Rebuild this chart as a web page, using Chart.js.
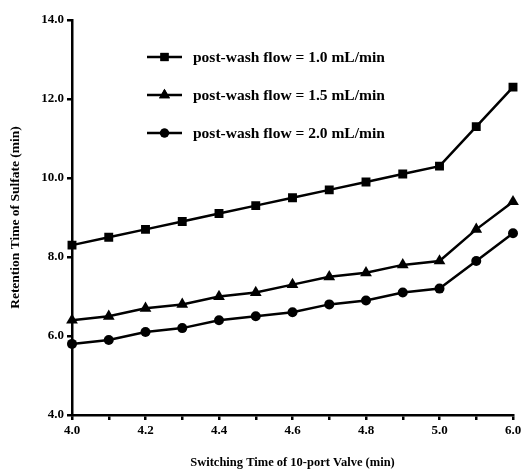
<!DOCTYPE html>
<html><head><meta charset="utf-8">
<script src="https://cdn.jsdelivr.net/npm/chart.js@4/dist/chart.umd.min.js"></script>
<style>html,body{margin:0;padding:0;background:#fff}#wrap{width:531px;height:470px;position:relative}</style>
</head><body><div id="wrap"><canvas id="c"></canvas></div>
<script>
const categories = ['4.0','4.1','4.2','4.3','4.4','4.5','4.6','4.7','4.8','4.9','5.0','5.5','6.0'];
const flow10 = [8.3,8.5,8.7,8.9,9.1,9.3,9.5,9.7,9.9,10.1,10.3,11.3,12.3];
const flow15 = [6.4,6.5,6.7,6.8,7.0,7.1,7.3,7.5,7.6,7.8,7.9,8.7,9.4];
const flow20 = [5.8,5.9,6.1,6.2,6.4,6.5,6.6,6.8,6.9,7.1,7.2,7.9,8.6];
const seriesNames = ['post-wash flow = 1.0 mL/min','post-wash flow = 1.5 mL/min','post-wash flow = 2.0 mL/min'];
const yTicks = [4,6,8,10,12,14];

const FONT = '"Liberation Serif","Times New Roman",serif';
function ds(label, data, style, r){
  return {label, data, borderColor:'#000', backgroundColor:'#000', borderWidth:2.5,
    pointStyle:style, pointRadius:r, pointHoverRadius:r, pointBorderWidth:0, tension:0};
}

const legendPlugin = {
  id:'insideLegend',
  afterDraw(chart){
    const ctx = chart.ctx;
    const x0 = 147, x1 = 182, tx = 193, y0 = 57, dy = 38;
    chart.data.datasets.forEach((d,i)=>{
      const y = y0 + i*dy;
      ctx.save();
      ctx.strokeStyle='#000'; ctx.lineWidth=2.5;
      ctx.beginPath(); ctx.moveTo(x0,y); ctx.lineTo(x1,y); ctx.stroke();
      ctx.fillStyle='#000';
      Chart.helpers.drawPoint(ctx,{pointStyle:d.pointStyle,radius:d.pointRadius-0.5,borderWidth:0,rotation:0},(x0+x1)/2,y);
      ctx.fill();
      ctx.font='bold 15.5px '+FONT; ctx.textBaseline='middle'; ctx.textAlign='left';
      ctx.fillText(d.label, tx, y+1);
      ctx.restore();
    });
  }
};

new Chart(document.getElementById('c'), {
  type:'line',
  data:{labels:categories, datasets:[
    ds(seriesNames[0], flow10, 'rect', 6.3),
    ds(seriesNames[1], flow15, 'triangle', 6.8),
    ds(seriesNames[2], flow20, 'circle', 5)
  ]},
  options:{
    responsive:true, maintainAspectRatio:false, animation:false,
    layout:{padding:{top:20,right:18,left:7,bottom:0}},
    plugins:{legend:{display:false}, tooltip:{enabled:false}},
    scales:{
      x:{type:'category', offset:false,
        border:{display:true,color:'#000',width:2.5},
        grid:{display:true, drawOnChartArea:false, drawTicks:true, tickLength:5, color:'#000', lineWidth:2.5},
        ticks:{color:'#000', font:{family:FONT, weight:'bold', size:13}, maxRotation:0, autoSkip:false, padding:3,
          callback:(v,i)=> i%2===0 ? categories[i] : ''},
        title:{display:true, text:'Switching Time of 10-port Valve (min)', color:'#000', font:{family:FONT,weight:'bold',size:12.5}, padding:{top:12,bottom:0}},
        afterFit(s){ s.height = 55; }
      },
      y:{min:4, max:14,
        border:{display:true,color:'#000',width:2.5},
        grid:{display:true, drawOnChartArea:false, drawTicks:true, tickLength:5, color:'#000', lineWidth:2.5},
        afterBuildTicks(s){ s.ticks = yTicks.map(v=>({value:v})); },
        ticks:{color:'#000', font:{family:FONT, weight:'bold', size:13}, padding:3, callback:v=>Number(v).toFixed(1)},
        title:{display:true, text:'Retention Time of Sulfate (min)', color:'#000', font:{family:FONT,weight:'bold',size:13.5}, padding:{top:0,bottom:6}},
        afterFit(s){ s.width = 65; }
      }
    }
  },
  plugins:[legendPlugin]
});
</script></body></html>
